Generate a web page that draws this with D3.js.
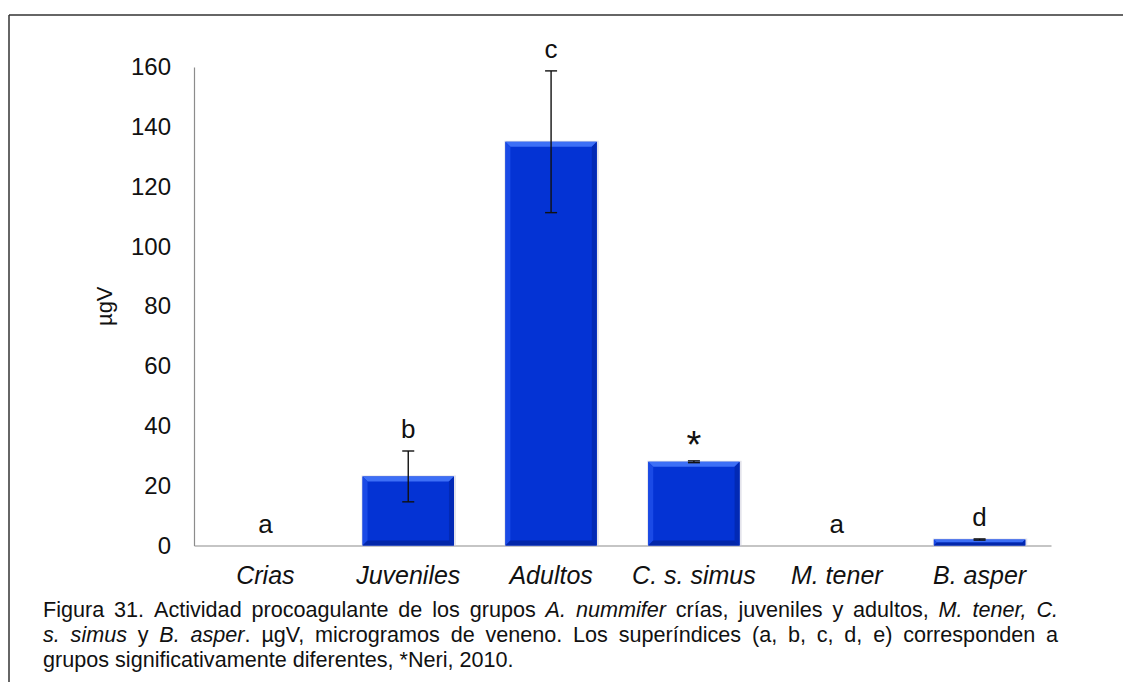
<!DOCTYPE html>
<html>
<head>
<meta charset="utf-8">
<script src="https://cdn.jsdelivr.net/npm/d3@7"></script>
<style>
  html, body { margin: 0; padding: 0; background: #fff; }
  svg { display: block; font-family: "Liberation Sans", Arial, sans-serif; }
</style>
</head>
<body>
<svg id="chart" width="1123" height="682"></svg>
<script>
// Procoagulant activity (µg of venom) per group
const categories = ["Crias", "Juveniles", "Adultos", "C. s. simus", "M. tener", "B. asper"];
const means      = [0, 23.1, 135, 28, 0, 2];
const errors     = [0, 8.5, 23.7, 0.3, 0, 0.2];
const letters    = ["a", "b", "c", "*", "a", "d"];
const yTicks     = [0, 20, 40, 60, 80, 100, 120, 140, 160];

const captionLines = [
  [["Figura 31. Actividad procoagulante de los grupos ", false], ["A. nummifer", true], [" crías, juveniles y adultos, ", false], ["M. tener, C.", true]],
  [["s. simus", true], [" y ", false], ["B. asper", true], [". µgV, microgramos de veneno. Los superíndices (a, b, c, d, e) corresponden a", false]],
  [["grupos significativamente diferentes, *Neri, 2010.", false]]
];

const svg = d3.select("#chart");
const W = 1123, H = 682;

// frame lines (top and left)
svg.append("line").attr("x1", 9).attr("x2", W).attr("y1", 15).attr("y2", 15)
  .attr("stroke", "#333").attr("stroke-width", 1.5);
svg.append("line").attr("x1", 9).attr("x2", 9).attr("y1", 15).attr("y2", H)
  .attr("stroke", "#333").attr("stroke-width", 1.5);

const plot = { left: 194, right: 1051, top: 67, bottom: 545.5 };

const x = d3.scaleBand().domain(categories).range([plot.left, plot.right]).paddingInner(0.36).paddingOuter(0.18);
const y = d3.scaleLinear().domain([0, 160]).range([plot.bottom, plot.top]);

// y axis
const yAxis = d3.axisLeft(y).tickValues(yTicks).tickSize(0).tickPadding(23);
const gy = svg.append("g").attr("transform", `translate(${plot.left},0)`).call(yAxis);
gy.select(".domain").attr("stroke", "#8c8c8c").attr("stroke-width", 1.2);
gy.selectAll("text").attr("font-size", 24).attr("fill", "#111")
  .attr("font-family", "Liberation Sans, Arial, sans-serif");

// x axis
const xAxis = d3.axisBottom(x).tickSize(0).tickPadding(21);
const gx = svg.append("g").attr("transform", `translate(0,${plot.bottom})`).call(xAxis);
gx.select(".domain").attr("stroke", "#8c8c8c").attr("stroke-width", 1.2);
gx.selectAll("text").attr("font-size", 25).attr("font-style", "italic").attr("fill", "#111")
  .attr("font-family", "Liberation Sans, Arial, sans-serif");

// y axis title
svg.append("text")
  .attr("transform", `translate(112,${y(80)}) rotate(-90)`)
  .attr("text-anchor", "middle").attr("font-size", 22).attr("fill", "#111")
  .text("µgV");

// beveled bars
const data = categories.map((c, i) => ({ c, m: means[i], e: errors[i], l: letters[i] }));
const bars = svg.append("g");
const bev = 5;
data.filter(d => d.m > 0).forEach(d => {
  const x0 = x(d.c), x1 = x0 + x.bandwidth();
  const y0 = y(d.m), y1 = y(0);
  const b = Math.min(bev, (y1 - y0) / 2);
  const g = bars.append("g");
  // soft shadow
  g.append("rect").attr("x", x0 - 1).attr("y", y0 - 1).attr("width", x1 - x0 + 3).attr("height", y1 - y0 + 2)
    .attr("fill", "#c8c8d8").attr("opacity", 0.5);
  g.append("rect").attr("x", x0).attr("y", y0).attr("width", x1 - x0).attr("height", y1 - y0)
    .attr("fill", "#0433d4");
  const poly = (pts, col) => g.append("polygon").attr("points", pts.map(p => p.join(",")).join(" ")).attr("fill", col);
  poly([[x0, y0], [x1, y0], [x1 - b, y0 + b], [x0 + b, y0 + b]], "#3d6ff6");
  poly([[x0, y0], [x0 + b, y0 + b], [x0 + b, y1 - b], [x0, y1]], "#1a4ae6");
  poly([[x1, y0], [x1, y1], [x1 - b, y1 - b], [x1 - b, y0 + b]], "#0229b4");
  poly([[x0, y1], [x0 + b, y1 - b], [x1 - b, y1 - b], [x1, y1]], "#0327aa");
});

// error bars
const eb = svg.append("g").attr("stroke", "#111").attr("stroke-width", 1.4);
data.filter(d => d.e > 0).forEach(d => {
  const cx = x(d.c) + x.bandwidth() / 2;
  eb.append("line").attr("x1", cx).attr("x2", cx).attr("y1", y(d.m + d.e)).attr("y2", y(d.m - d.e));
  [d.m + d.e, d.m - d.e].forEach(v => {
    eb.append("line").attr("x1", cx - 6).attr("x2", cx + 6).attr("y1", y(v)).attr("y2", y(v));
  });
});

// significance letters
svg.append("g").selectAll("text").data(data).join("text")
  .attr("x", d => x(d.c) + x.bandwidth() / 2)
  .attr("y", d => y(d.m + d.e) - 13 + (d.l === "*" ? 10 : 0))
  .attr("text-anchor", "middle")
  .attr("font-size", d => d.l === "*" ? 38 : 26)
  .attr("fill", "#111")
  .text(d => d.l);

// caption, first two lines justified
const capLeft = 43, capRight = 1058, capFont = 21.6;
const capY = [617, 642, 667];
captionLines.forEach((segs, li) => {
  const words = [];
  segs.forEach(([txt, it]) => {
    const parts = txt.split(" ");
    parts.forEach((p, k) => {
      if (k > 0) words.push({ space: true });
      if (p.length) words.push({ t: p, it });
    });
  });
  // group consecutive tokens between spaces into words
  const groups = [];
  let cur = [];
  words.forEach(w => {
    if (w.space) { if (cur.length) groups.push(cur); cur = []; }
    else cur.push(w);
  });
  if (cur.length) groups.push(cur);

  const gLine = svg.append("g");
  const widths = groups.map(gr => {
    const t = gLine.append("text").attr("font-size", capFont).attr("y", capY[li]);
    gr.forEach(w => t.append("tspan").attr("font-style", w.it ? "italic" : "normal").text(w.t));
    const wd = t.node().getComputedTextLength();
    return { node: t, wd };
  });
  const total = d3.sum(widths, w => w.wd);
  const justify = li < 2;
  const gap = justify ? (capRight - capLeft - total) / (groups.length - 1) : capFont * 0.278;
  let cx = capLeft;
  widths.forEach(w => {
    w.node.attr("x", cx).attr("fill", "#111");
    cx += w.wd + gap;
  });
});
</script>
</body>
</html>
